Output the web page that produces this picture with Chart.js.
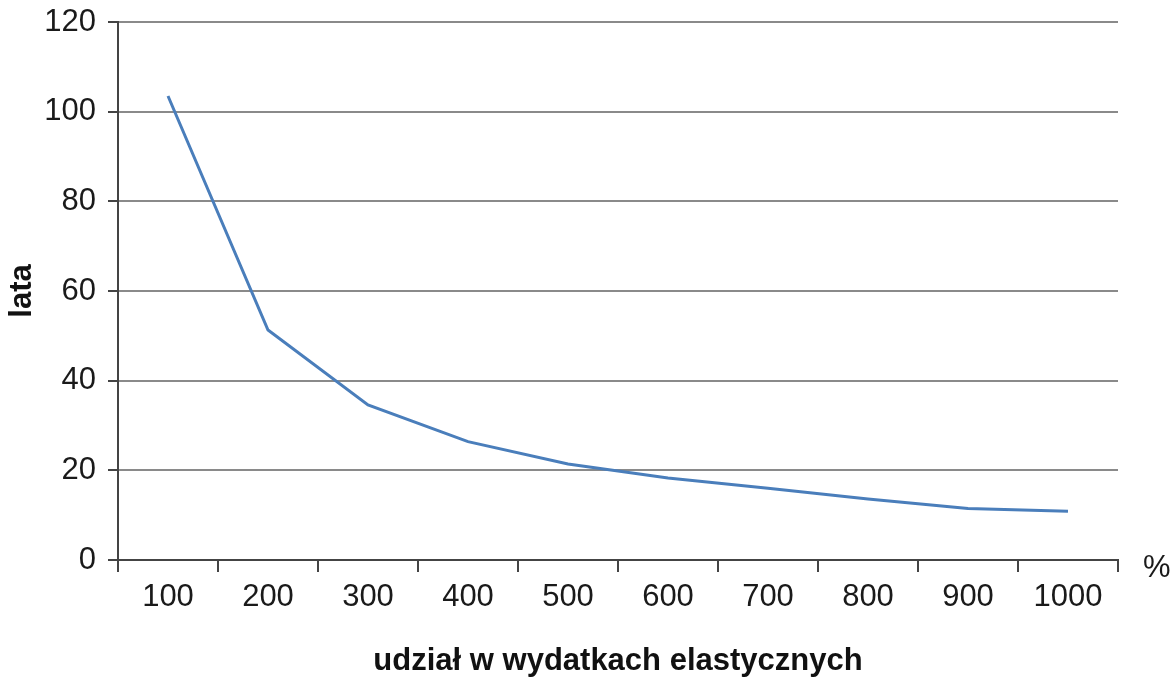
<!DOCTYPE html>
<html>
<head>
<meta charset="utf-8">
<script src="https://cdn.jsdelivr.net/npm/chart.js@4/dist/chart.umd.min.js"></script>
<style>
html,body{margin:0;padding:0;background:#fff;}
#wrap{width:1174px;height:680px;}
</style>
</head>
<body>
<div id="wrap"><canvas id="c" width="1174" height="680"></canvas></div>
<script>
const categories = ['100','200','300','400','500','600','700','800','900','1000'];
const values = [103.5, 51.3, 34.6, 26.4, 21.4, 18.3, 16.0, 13.6, 11.5, 10.9];
const yTicks = [0, 20, 40, 60, 80, 100, 120];
const xTitle = 'udział w wydatkach elastycznych';
const yTitle = 'lata';
const unitLabel = '%';

const FONT = '"Liberation Sans", Arial, sans-serif';

const unitPlugin = {
  id: 'unitLabel',
  afterDraw(chart) {
    const ctx = chart.ctx;
    const x = chart.scales.x;
    ctx.save();
    ctx.font = '31px ' + FONT;
    ctx.fillStyle = '#1a1a1a';
    ctx.textAlign = 'left';
    ctx.textBaseline = 'middle';
    ctx.fillText(unitLabel, x.right + 25, x.top + 8);
    ctx.restore();
  }
};

new Chart(document.getElementById('c'), {
  type: 'line',
  data: {
    labels: categories,
    datasets: [{
      data: values,
      borderColor: '#4a7ebb',
      borderWidth: 3,
      pointRadius: 0,
      tension: 0,
      fill: false
    }]
  },
  options: {
    responsive: false,
    animation: false,
    layout: { padding: { left: 0, right: 56, top: 22, bottom: 0 } },
    plugins: { legend: { display: false }, tooltip: { enabled: false } },
    scales: {
      x: {
        type: 'category',
        offset: true,
        grid: {
          offset: true,
          drawOnChartArea: false,
          drawTicks: true,
          tickLength: 12,
          color: '#444',
          lineWidth: 2
        },
        border: { color: '#444', width: 2 },
        ticks: {
          font: { family: FONT, size: 31 },
          color: '#1a1a1a',
          padding: 7,
          maxRotation: 0,
          autoSkip: false
        },
        title: {
          display: true,
          text: xTitle,
          font: { family: FONT, size: 31, weight: 'bold' },
          color: '#111',
          padding: { top: 0, bottom: 0 }
        },
        afterFit(s) { s.height = 120; s.paddingLeft = 0; s.paddingRight = 0; }
      },
      y: {
        min: 0,
        max: 120,
        afterBuildTicks(s) { s.ticks = yTicks.map(v => ({ value: v })); },
        grid: {
          color: '#8a8a8a',
          lineWidth: 2,
          tickLength: 10,
          tickColor: '#444'
        },
        border: { color: '#444', width: 2 },
        ticks: {
          font: { family: FONT, size: 31 },
          color: '#1a1a1a',
          padding: 12
        },
        title: {
          display: true,
          text: yTitle,
          font: { family: FONT, size: 31, weight: 'bold' },
          color: '#111',
          padding: { top: 4, bottom: 4 }
        },
        afterFit(s) { s.width = 118; s.paddingTop = 0; s.paddingBottom = 0; }
      }
    }
  },
  plugins: [unitPlugin]
});
</script>
</body>
</html>
